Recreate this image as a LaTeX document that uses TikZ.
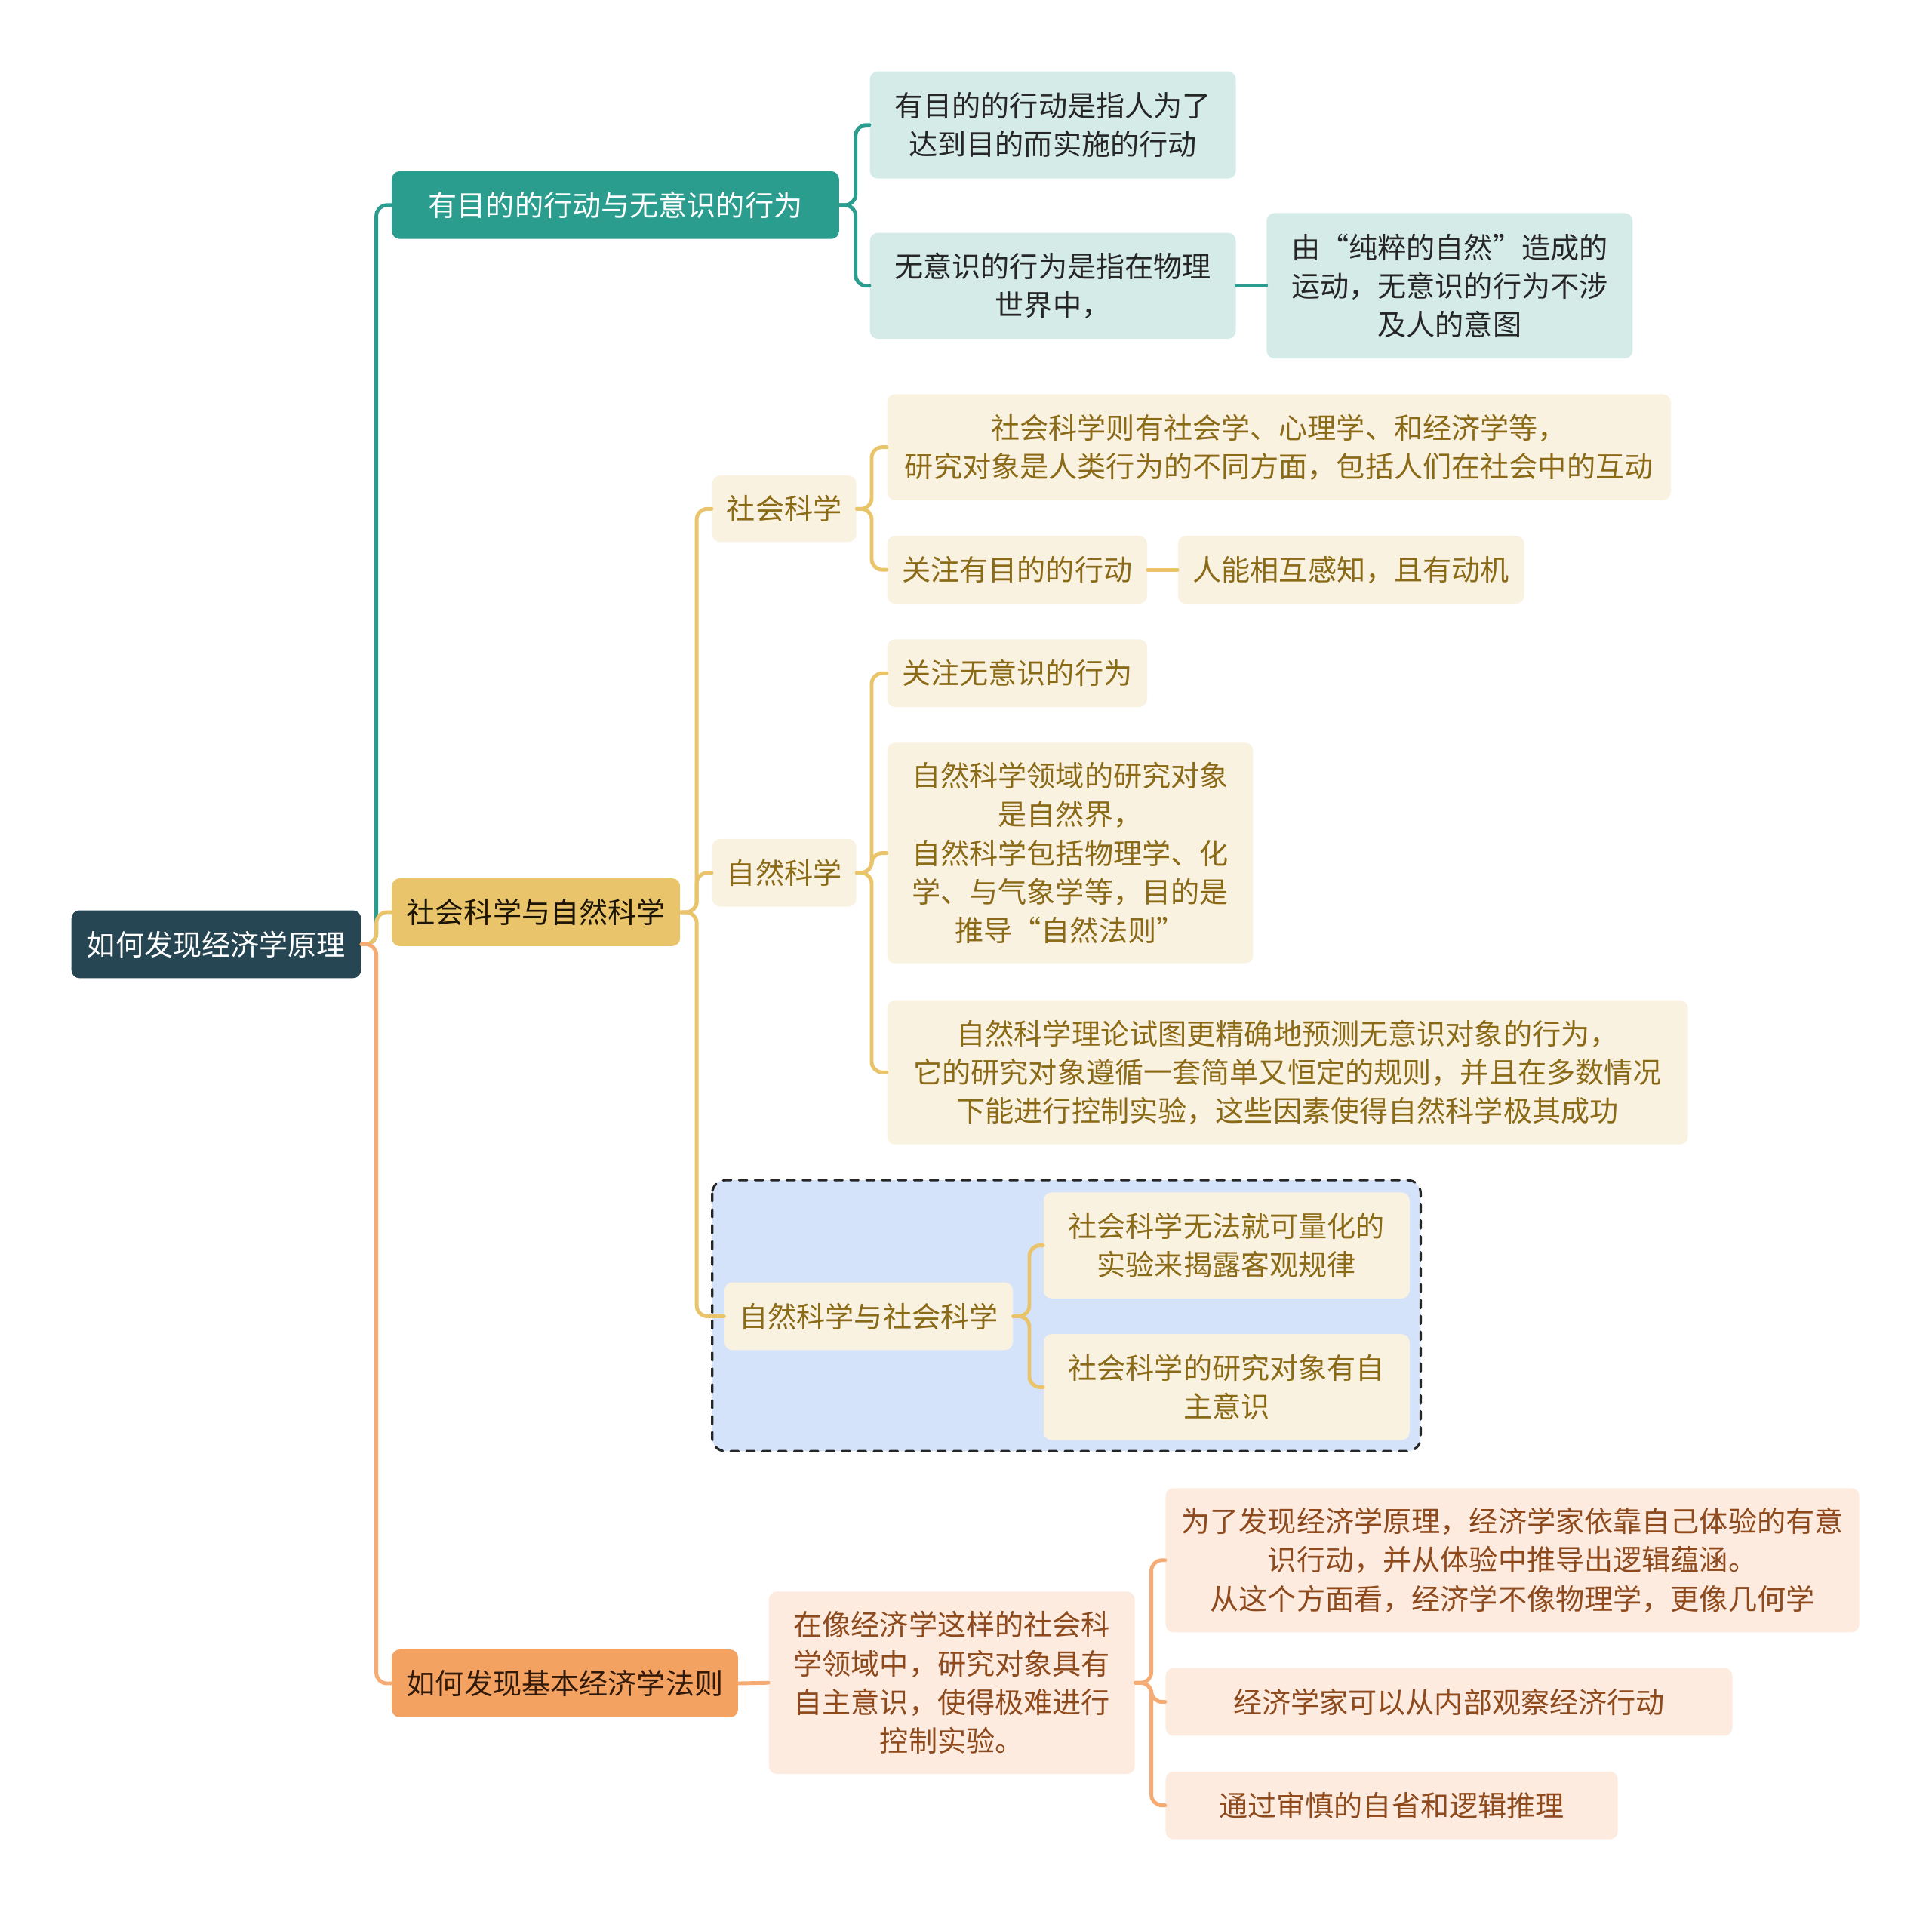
\documentclass[tikz,border=0pt]{standalone}
\usepackage{fontspec}
\setmainfont{Noto Sans CJK SC}
\usepackage{tikz}
\newcommand\upx{0.016327cm}
\definecolor{rootc}{HTML}{264653}
\definecolor{tealc}{HTML}{2A9D8F}
\definecolor{goldc}{HTML}{E9C46A}
\definecolor{orangec}{HTML}{F4A261}
\definecolor{tealbg}{HTML}{D5EBE8}
\definecolor{goldbg}{HTML}{FAF2E1}
\definecolor{orangebg}{HTML}{FDEBE0}
\definecolor{bluebg}{HTML}{D5E3FA}
\definecolor{goldtxt}{HTML}{8B6A17}
\definecolor{orangetxt}{HTML}{8E4A1C}
\tikzset{
  every picture/.style={line join=round, line cap=round},
  box/.style 2 args={rectangle, rounded corners=3pt, align=center, inner sep=1pt,
    minimum width=#1*\upx, minimum height=#2*\upx,
    font=\fontsize{10.85pt}{14.6pt}\selectfont},
  rootbox/.style={fill=rootc, text=white},
  tealbox/.style={fill=tealc, text=white},
  goldbox/.style={fill=goldc, text=black!80!goldtxt},
  orangebox/.style={fill=orangec, text=black!65!orangetxt},
  tealleaf/.style={fill=tealbg, text=black!85},
  goldleaf/.style={fill=goldbg, text=goldtxt},
  orangeleaf/.style={fill=orangebg, text=orangetxt},
  tealln/.style={draw=tealc, line width=1.4pt, rounded corners=4pt},
  goldln/.style={draw=goldc, line width=1.4pt, rounded corners=4pt},
  orangeln/.style={draw=orangec!90!white, line width=1.4pt, rounded corners=4pt},
}

\begin{document}
\begin{tikzpicture}[x=\upx, y=-\upx]
\useasboundingbox (0,0) rectangle (1568,1552);
% group frame
\draw[fill=bluebg, draw=black!85, dashed, line width=0.9pt, rounded corners=5pt]
  (578,958) rectangle (1153,1178);

\node[box={235}{55}, rootbox] (root) at (175.5,766.5) {如何发现经济学原理};

\node[box={363}{55}, tealbox] (act) at (499.5,166.5) {有目的的行动与无意识的行为};
\node[box={234}{55}, goldbox] (sci) at (435,740.5) {社会科学与自然科学};
\node[box={281}{55}, orangebox] (law) at (458.5,1366.5) {如何发现基本经济学法则};

% teal branch
\node[box={297}{87}, tealleaf] (purp) at (854.5,101.5) {有目的的行动是指人为了\\达到目的而实施的行动};
\node[box={297}{86}, tealleaf] (unc) at (854.5,232) {无意识的行为是指在物理\\世界中，};
\node[box={297}{118}, tealleaf] (nat) at (1176.5,232) {由“纯粹的自然”造成的\\运动，无意识的行为不涉\\及人的意图};

% gold branch
\node[box={117}{54}, goldleaf] (soc) at (636.5,413) {社会科学};
\node[box={117}{55}, goldleaf] (natsci) at (636.5,708.5) {自然科学};
\node[box={234}{55}, goldleaf] (both) at (705,1068.5) {自然科学与社会科学};

\node[box={636}{86}, goldleaf] (socdef) at (1038,363) {社会科学则有社会学、心理学、和经济学等，\\研究对象是人类行为的不同方面，包括人们在社会中的互动};
\node[box={211}{55}, goldleaf] (socfoc) at (825.5,462.5) {关注有目的的行动};
\node[box={281}{55}, goldleaf] (motive) at (1096.5,462.5) {人能相互感知，且有动机};

\node[box={211}{55}, goldleaf] (natfoc) at (825.5,546.5) {关注无意识的行为};
\node[box={297}{179}, goldleaf] (natdef) at (868.5,692.5) {自然科学领域的研究对象\\是自然界，\\自然科学包括物理学、化\\学、与气象学等，目的是\\推导“自然法则”};
\node[box={650}{117}, goldleaf] (natok) at (1045,870.5) {自然科学理论试图更精确地预测无意识对象的行为，\\它的研究对象遵循一套简单又恒定的规则，并且在多数情况\\下能进行控制实验，这些因素使得自然科学极其成功};

\node[box={297}{86}, goldleaf] (noexp) at (995.5,1011) {社会科学无法就可量化的\\实验来揭露客观规律};
\node[box={297}{86}, goldleaf] (aware) at (995.5,1126) {社会科学的研究对象有自\\主意识};

% orange branch
\node[box={297}{148}, orangeleaf] (field) at (772.5,1366) {在像经济学这样的社会科\\学领域中，研究对象具有\\自主意识，使得极难进行\\控制实验。};
\node[box={563}{117}, orangeleaf] (geo) at (1227.5,1266.5) {为了发现经济学原理，经济学家依靠自己体验的有意\\识行动，并从体验中推导出逻辑蕴涵。\\从这个方面看，经济学不像物理学，更像几何学};
\node[box={460}{55}, orangeleaf] (inside) at (1176,1381.5) {经济学家可以从内部观察经济行动};
\node[box={367}{55}, orangeleaf] (logic) at (1129.5,1465.5) {通过审慎的自省和逻辑推理};

% connectors
\draw[tealln] (root.east) -- ++(12,0) |- (act.west);
\draw[goldln] (root.east) -- ++(12,0) |- (sci.west);
\draw[orangeln] (root.east) -- ++(12,0) |- (law.west);

\draw[tealln] (act.east) -- ++(13,0) |- (purp.west);
\draw[tealln] (act.east) -- ++(13,0) |- (unc.west);
\draw[tealln] (unc.east) -- (nat.west);

\draw[goldln] (sci.east) -- ++(13,0) |- (soc.west);
\draw[goldln] (sci.east) -- ++(13,0) |- (natsci.west);
\draw[goldln] (sci.east) -- ++(13,0) |- (both.west);
\draw[goldln] (soc.east) -- ++(12,0) |- (socdef.west);
\draw[goldln] (soc.east) -- ++(12,0) |- (socfoc.west);
\draw[goldln] (socfoc.east) -- (motive.west);
\draw[goldln] (natsci.east) -- ++(12,0) |- (natfoc.west);
\draw[goldln] (natsci.east) -- ++(12,0) |- (natdef.west);
\draw[goldln] (natsci.east) -- ++(12,0) |- (natok.west);
\draw[goldln] (both.east) -- ++(13,0) |- (noexp.west);
\draw[goldln] (both.east) -- ++(13,0) |- (aware.west);

\draw[orangeln] (law.east) -- (field.west);
\draw[orangeln] (field.east) -- ++(13,0) |- (geo.west);
\draw[orangeln] (field.east) -- ++(13,0) |- (inside.west);
\draw[orangeln] (field.east) -- ++(13,0) |- (logic.west);
\end{tikzpicture}
\end{document}
